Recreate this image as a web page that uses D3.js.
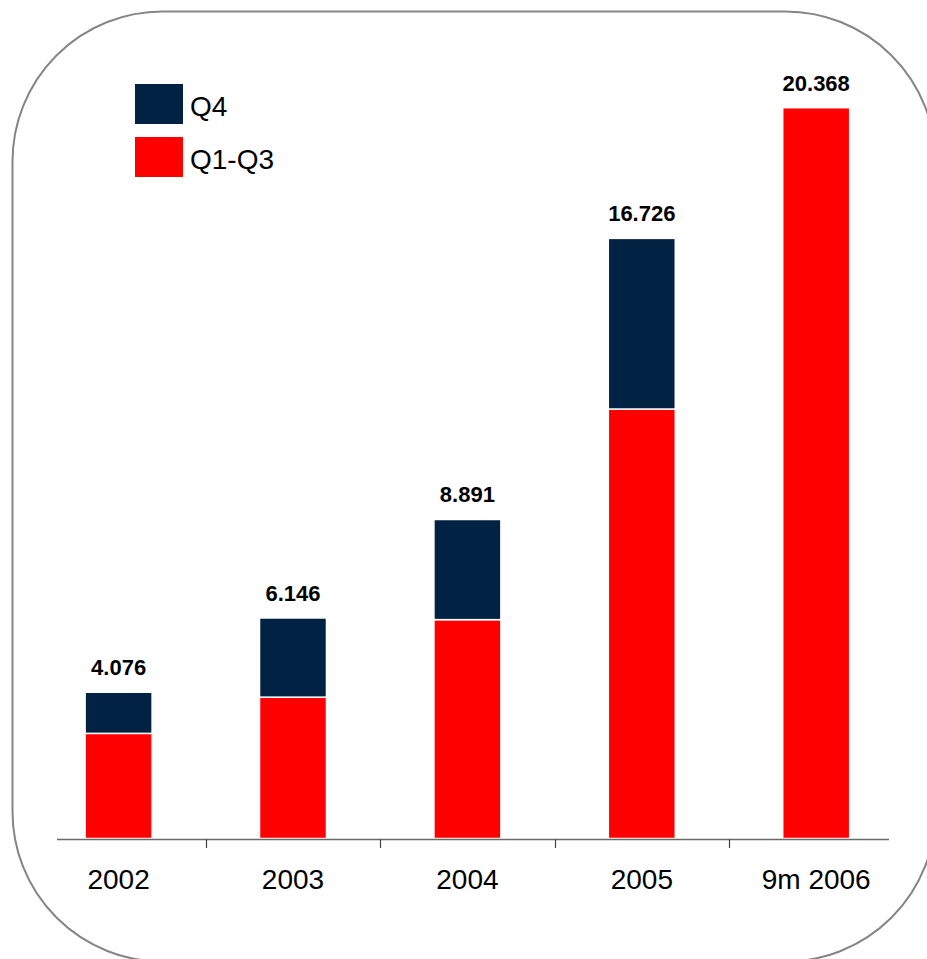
<!DOCTYPE html>
<html>
<head>
<meta charset="utf-8">
<script src="https://cdn.jsdelivr.net/npm/d3@7"></script>
<style>
  html, body { margin: 0; padding: 0; background: #ffffff; }
  svg { display: block; font-family: Arial, "Liberation Sans", sans-serif; }
</style>
</head>
<body>
<svg id="chart" width="927" height="959"></svg>
<script>
// Periods shown on the x axis
const categories = ["2002", "2003", "2004", "2005", "9m 2006"];
// First three quarters of each period
const q1q3 = [2930, 3940, 6100, 11970, 20368];
// Fourth quarter (none yet for 9m 2006)
const q4 = [1146, 2206, 2791, 4756, 0];
// Legend entries, top to bottom
const legendLabels = ["Q4", "Q1-Q3"];

const colors = { "Q4": "#022244", "Q1-Q3": "#ff0000" };

const svg = d3.select("#chart");

// Rounded frame around the whole chart
svg.append("rect")
  .attr("x", 12.5).attr("y", 11.5)
  .attr("width", 923).attr("height", 950)
  .attr("rx", 150).attr("ry", 150)
  .attr("fill", "none")
  .attr("stroke", "#858585")
  .attr("stroke-width", 2);

const x = d3.scaleBand()
  .domain(categories)
  .range([31.4, 903.4])
  .paddingInner(0.616)
  .paddingOuter(0.308);

const y = d3.scaleLinear()
  .domain([0, 20368])
  .range([838.5, 107.7]);

// European number format: 4.076
const fmt = d3.formatLocale({ decimal: ",", thousands: ".", grouping: [3], currency: ["", ""] }).format(",d");

const rows = categories.map((c, i) => ({ cat: c, "Q1-Q3": q1q3[i], "Q4": q4[i] }));
const stack = d3.stack().keys(["Q1-Q3", "Q4"]);
const series = stack(rows);

const g = svg.append("g");
series.forEach(s => {
  g.selectAll(null)
    .data(s.filter(d => d[1] - d[0] > 0))
    .join("rect")
    .attr("x", d => x(d.data.cat))
    .attr("width", x.bandwidth())
    .attr("y", d => y(d[1]))
    .attr("height", d => y(d[0]) - y(d[1]))
    .attr("fill", colors[s.key])
    .attr("stroke", "#ffffff")
    .attr("stroke-width", 1.5);
});

// Totals above each bar
svg.selectAll(".total")
  .data(rows)
  .join("text")
  .attr("class", "total")
  .attr("x", d => x(d.cat) + x.bandwidth() / 2)
  .attr("y", d => y(d["Q1-Q3"] + d["Q4"]) - 17)
  .attr("text-anchor", "middle")
  .attr("font-size", 22)
  .attr("font-weight", "bold")
  .attr("fill", "#000")
  .text(d => fmt(d["Q1-Q3"] + d["Q4"]));

// Baseline
svg.append("line")
  .attr("x1", 57).attr("x2", 889)
  .attr("y1", 839.5).attr("y2", 839.5)
  .attr("stroke", "#6a6a6a")
  .attr("stroke-width", 1.5);

// Separator ticks between categories
const step = x.step();
svg.selectAll(".sep")
  .data(categories.slice(1))
  .join("line")
  .attr("class", "sep")
  .attr("x1", d => Math.round(x(d) - step * x.paddingInner() / 2) + 0.5)
  .attr("x2", d => Math.round(x(d) - step * x.paddingInner() / 2) + 0.5)
  .attr("y1", 839.5).attr("y2", 848)
  .attr("stroke", "#444")
  .attr("stroke-width", 1.2);

// Category labels
const xAxis = d3.axisBottom(x).tickSize(0).tickPadding(0);
const ax = svg.append("g")
  .attr("transform", "translate(0,0)")
  .call(xAxis);
ax.select(".domain").remove();
ax.selectAll("text")
  .attr("y", 889)
  .attr("dy", null)
  .attr("font-size", 28)
  .attr("font-family", "Arial, 'Liberation Sans', sans-serif")
  .attr("fill", "#000");

// Legend
const leg = svg.selectAll(".leg")
  .data(legendLabels)
  .join("g")
  .attr("class", "leg")
  .attr("transform", (d, i) => `translate(135,${84 + i * 53})`);
leg.append("rect")
  .attr("width", 48).attr("height", 40)
  .attr("fill", d => colors[d]);
leg.append("text")
  .attr("x", 55).attr("y", 31.5)
  .attr("font-size", 28)
  .attr("fill", "#000")
  .text(d => d);
</script>
</body>
</html>
